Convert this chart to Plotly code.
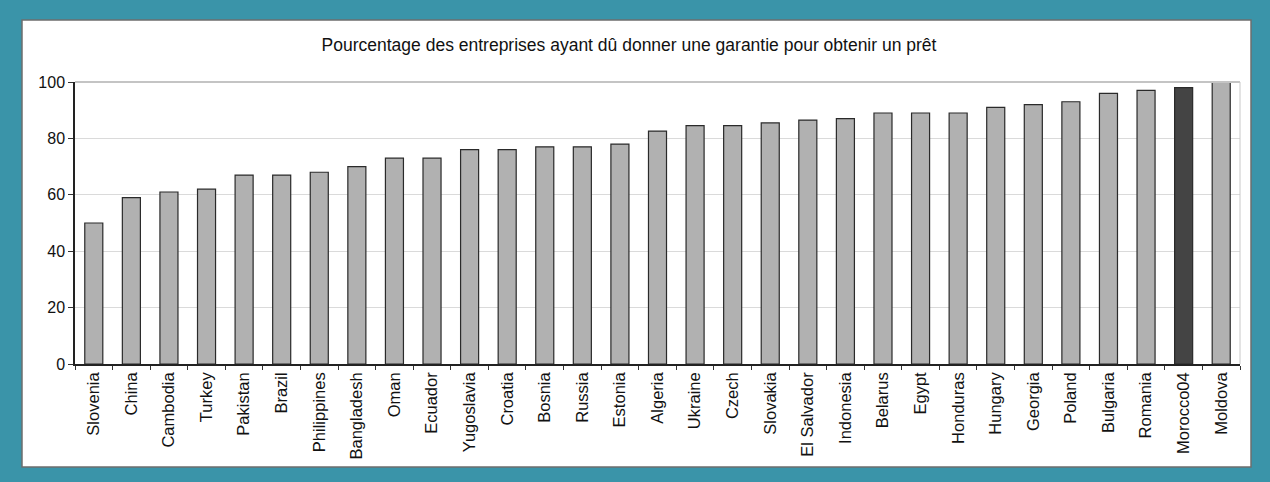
import plotly.graph_objects as go

countries = ["Slovenia", "China", "Cambodia", "Turkey", "Pakistan", "Brazil", "Philippines",
             "Bangladesh", "Oman", "Ecuador", "Yugoslavia", "Croatia", "Bosnia", "Russia",
             "Estonia", "Algeria", "Ukraine", "Czech", "Slovakia", "El Salvador", "Indonesia",
             "Belarus", "Egypt", "Honduras", "Hungary", "Georgia", "Poland", "Bulgaria",
             "Romania", "Morocco04", "Moldova"]
values = [50, 59, 61, 62, 67, 67, 68, 70, 73, 73, 76, 76, 77, 77, 78, 82.6, 84.5, 84.5,
          85.5, 86.5, 87, 89, 89, 89, 91, 92, 93, 96, 97, 98, 100]
highlight = "Morocco04"
title_text = "Pourcentage des entreprises ayant dû donner une garantie pour obtenir un prêt"

W, H = 1270, 482
L, R, T, B = 75, 30, 82, 118
pw, ph = W - L - R, H - T - B

def px_x(p):
    return (p - L) / pw

def px_y(p):
    return (H - B - p) / ph

colors = ["#444444" if c == highlight else "#B1B1B1" for c in countries]

fig = go.Figure(go.Bar(
    x=countries, y=values,
    marker=dict(color=colors, line=dict(color="#2A2A2A", width=1.2)),
))

shapes = [
    dict(type="rect", xref="paper", yref="paper", layer="below",
         x0=px_x(22), x1=px_x(1251), y0=px_y(467), y1=px_y(20),
         fillcolor="white", line=dict(color="#6E6E6E", width=1.5)),
    dict(type="line", xref="paper", yref="paper", x0=0, x1=1, y0=1, y1=1,
         line=dict(color="#C4C4C4", width=2)),
    dict(type="line", xref="paper", yref="paper", x0=1, x1=1, y0=0, y1=1,
         line=dict(color="#C8C8C8", width=1)),
]

fig.update_layout(
    width=W, height=H,
    margin=dict(l=L, r=R, t=T, b=B),
    paper_bgcolor="#3A94A9",
    plot_bgcolor="#FBFCFE",
    font=dict(family="Liberation Sans, Arial, sans-serif", color="#111111"),
    title=dict(text=title_text, x=629 / W, xanchor="center", y=1 - 45 / H,
               yanchor="middle", font=dict(size=17.5, color="#111111")),
    bargap=0.52,
    shapes=shapes,
    showlegend=False,
)
fig.update_xaxes(type="category", tickson="boundaries", ticks="outside", ticklen=4,
                 tickcolor="#333333", showline=True, linecolor="#222222", linewidth=1.5,
                 tickangle=-90, tickfont=dict(size=16.5), showgrid=False)
fig.update_yaxes(range=[0, 100], dtick=20, ticks="outside", ticklen=5, tickcolor="#333333",
                 showline=True, linecolor="#222222", linewidth=1.5, gridcolor="#DADADA",
                 zeroline=False, tickfont=dict(size=16))

fig.write_html("out.html", config={"displayModeBar": False},
               post_script="document.body.style.margin='0';document.body.style.overflow='hidden';")
